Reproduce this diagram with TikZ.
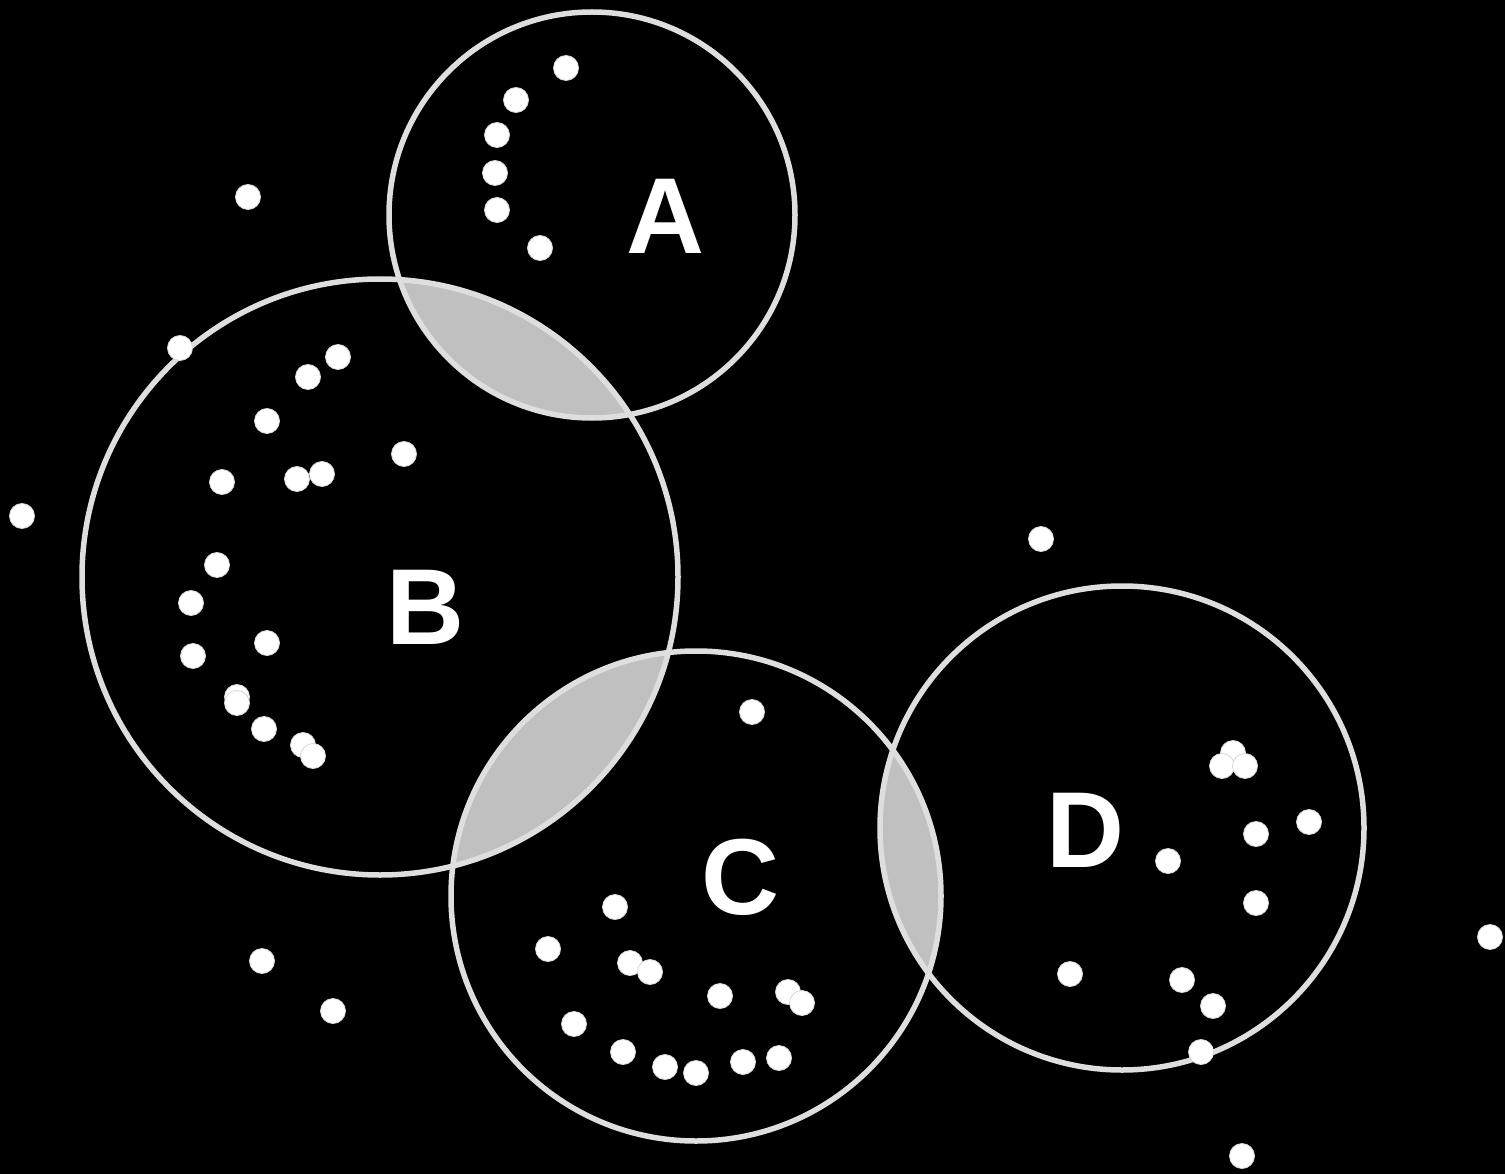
\documentclass[tikz,border=0pt]{standalone}
\usepackage{fontspec}
\setmainfont{Liberation Sans}
\begin{document}
\begin{tikzpicture}[x=1pt,y=-1pt,
  ring/.style={draw=ringgray,line width=5.5pt},
  lens/.style={fill=lensgray},
  dot/.style={circle,fill=white,draw=dotedge,line width=0.8pt,minimum size=25pt,inner sep=0pt},
  lbl/.style={text=white,font=\fontsize{108}{108}\selectfont\bfseries,inner sep=0pt}]
\definecolor{ringgray}{RGB}{222,222,222}
\definecolor{lensgray}{RGB}{192,192,192}
\definecolor{dotedge}{RGB}{215,215,215}
\fill[black] (0,0) rectangle (1505,1174);
\useasboundingbox (0,0) rectangle (1505,1174);
\coordinate (cA) at (592,215);
\coordinate (cB) at (380,577);
\coordinate (cC) at (696,896);
\coordinate (cD) at (1122,828);
% lenses
\begin{scope}\clip (cA) circle (203);\fill[lens] (cB) circle (298);\end{scope}
\begin{scope}\clip (cB) circle (298);\fill[lens] (cC) circle (245);\end{scope}
\begin{scope}\clip (cC) circle (245);\fill[lens] (cD) circle (242);\end{scope}
% circles
\draw[ring] (cA) circle (203);
\draw[ring] (cB) circle (298);
\draw[ring] (cC) circle (245);
\draw[ring] (cD) circle (242);
% labels
\node[lbl] (lA) at (665,216) {A};
\node[lbl] (lB) at (425,607) {B};
\node[lbl] (lC) at (740,877) {C};
\node[lbl] (lD) at (1085,830) {D};
% dots A
\foreach \p [count=\i] in {(566,68),(516,100),(497,135),(495,173),(497,210),(540,248)}
  \node[dot] (a\i) at \p {};
% dots B
\foreach \p [count=\i] in {(338,357),(308,377),(267,421),(404,454),(222,482),(297,479),(322,474),(217,565),(191,603),(267,643),(193,656),(237,697),(237,703),(264,729),(303,745),(313,756)}
  \node[dot] (b\i) at \p {};
% dots C
\foreach \p [count=\i] in {(752,712),(615,907),(548,949),(630,963),(650,972),(720,996),(788,992),(802,1003),(574,1024),(623,1052),(665,1067),(696,1073),(743,1062),(779,1058)}
  \node[dot] (c\i) at \p {};
% dots D
\foreach \p [count=\i] in {(1233,753),(1222,766),(1245,766),(1309,822),(1256,834),(1168,861),(1256,903),(1070,974),(1182,980),(1213,1006),(1201,1052)}
  \node[dot] (d\i) at \p {};
% outside dots
\foreach \p [count=\i] in {(248,197),(180,348),(22,516),(1041,539),(262,961),(333,1011),(1490,937),(1242,1156)}
  \node[dot] (o\i) at \p {};
\end{tikzpicture}
\end{document}
